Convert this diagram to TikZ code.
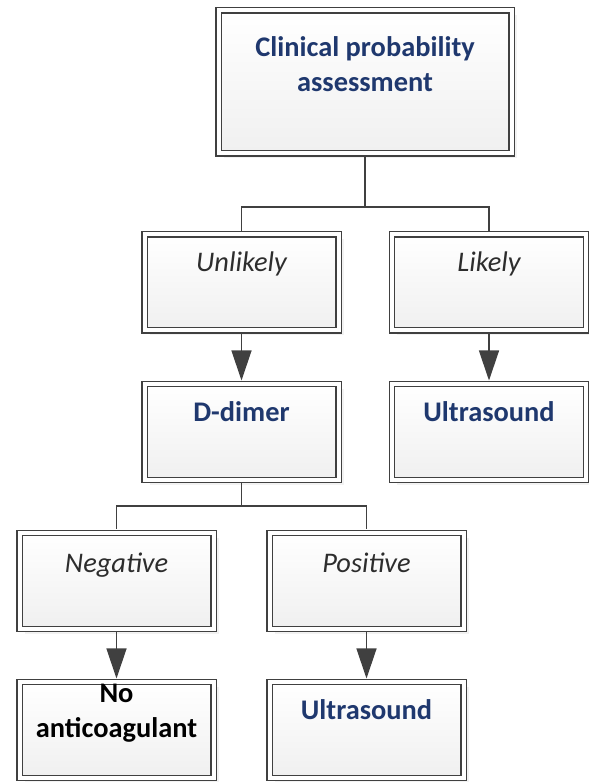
\documentclass[tikz,border=0pt]{standalone}
\usepackage{fontspec}
\setmainfont{Carlito}
\usetikzlibrary{arrows.meta,shadows}
\definecolor{navy}{RGB}{31,56,110}
\definecolor{edge}{RGB}{64,64,64}
\definecolor{ink}{RGB}{45,45,45}

\begin{document}
\begin{tikzpicture}[x=1pt,y=1pt,line width=1.4pt,
  box/.style={draw=edge,double=white,double distance=4pt,inner sep=0pt,outer sep=3.5pt,
    minimum width=194pt,minimum height=96pt,top color=white,bottom color=black!6,
    drop shadow={shadow xshift=5pt,shadow yshift=-5pt,fill=black!10}},
  lbl/.style={inner sep=0pt,anchor=base,align=center,font=\fontsize{28.4}{35}\selectfont},
  title/.style={lbl,text=navy,font=\fontsize{28.4}{35}\selectfont\bfseries},
  branch/.style={lbl,text=ink,font=\fontsize{28.4}{35}\selectfont\itshape},
  link/.style={draw=edge,line width=1.3pt},
  arr/.style={link,-{Triangle[length=30pt,width=20pt]}}]
\useasboundingbox (0,0) rectangle (589,782);

% boxes
\node[box,minimum width=293pt,minimum height=143pt] (cpa) at (365,700) {};
\node[box] (unlikely) at (241.5,499.5) {};
\node[box] (likely) at (489,499.5) {};
\node[box] (ddimer) at (241.5,350) {};
\node[box] (us1) at (489,350) {};
\node[box] (negative) at (116.5,201) {};
\node[box] (positive) at (366.5,201) {};
\node[box] (noanti) at (116.5,52) {};
\node[box] (us2) at (366.5,52) {};

% texts (base = last line)
\node[title] (t-cpa) at ([yshift=-85pt]cpa.north) {Clinical probability\\assessment};
\node[branch] (t-unlikely) at ([yshift=-41pt]unlikely.north) {Unlikely};
\node[branch] (t-likely) at ([yshift=-41pt]likely.north) {Likely};
\node[title] (t-ddimer) at ([yshift=-41pt]ddimer.north) {D-dimer};
\node[title] (t-us1) at ([yshift=-41pt]us1.north) {Ultrasound};
\node[branch] (t-negative) at ([yshift=-43pt]negative.north) {Negative};
\node[branch] (t-positive) at ([yshift=-43pt]positive.north) {Positive};
\node[title,text=black] (t-noanti) at ([yshift=-59pt]noanti.north) {No\\anticoagulant};
\node[title] (t-us2) at ([yshift=-41pt]us2.north) {Ultrasound};

% connectors
\draw[link] (cpa.south) -- ++(0,-50) -| (unlikely.north);
\draw[link] (cpa.south) -- ++(0,-50) -| (likely.north);
\draw[link] (ddimer.south) -- ++(0,-22.5) -| (negative.north);
\draw[link] (ddimer.south) -- ++(0,-22.5) -| (positive.north);
\draw[arr] (unlikely.south) -- (ddimer.north);
\draw[arr] (likely.south) -- (us1.north);
\draw[arr] (negative.south) -- (noanti.north);
\draw[arr] (positive.south) -- (us2.north);
\end{tikzpicture}
\end{document}
